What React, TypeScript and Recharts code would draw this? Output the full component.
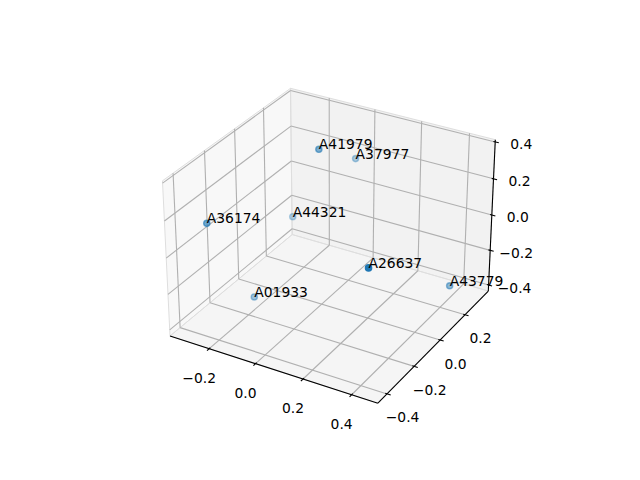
import React from 'react';
import { ScatterChart, Scatter, XAxis, YAxis } from 'recharts';

// ---------------- data ----------------
const pointLabels = ['A41979', 'A37977', 'A36174', 'A44321', 'A26637', 'A43779', 'A01933'];
const xValues = [-0.058, -0.051, -0.317, -0.230, 0.432, 0.450, -0.213];
const yValues = [0.080, 0.340, -0.283, 0.170, -0.411, 0.175, -0.138];
const zValues = [0.358, 0.155, 0.090, -0.132, 0.218, -0.274, -0.381];

const xTicks = [-0.2, 0.0, 0.2, 0.4];
const yTicks = [-0.4, -0.2, 0.0, 0.2];
const zTicks = [-0.4, -0.2, 0.0, 0.2, 0.4];
const fmt = (v: number) => (v < -1e-9 ? '\u2212' : '') + Math.abs(v).toFixed(1);

// ---------------- view (matplotlib-like 3D camera) ----------------
const ELEV = 30;
const AZIM = -60;
const DIST = 10;
const BOX_ASPECT = [4, 4, 3];
const MARGIN = 0.05;
const PANE_PAD = 1 / 48;

const W = 640;
const H = 480;
const CX = 332.1;
const CY = 238.2;
const SX = 2000.3;
const SY = 1980.6;

const FONT = 'DejaVu Sans, sans-serif';
const FS = 13.89;
const C0 = '#1f77b4';

const bnorm = Math.hypot(...BOX_ASPECT);
const aspect = BOX_ASPECT.map((v) => (v * 1.8294640721620434) / bnorm);

function lim(vals: number[]): [number, number] {
  const mn = Math.min(...vals);
  const mx = Math.max(...vals);
  const r = mx - mn;
  return [mn - MARGIN * r, mx + MARGIN * r];
}
const LIMS = [lim(xValues), lim(yValues), lim(zValues)];
const qOf = (axis: number, v: number) =>
  ((v - LIMS[axis][0]) / (LIMS[axis][1] - LIMS[axis][0]) - 0.5) * aspect[axis];
const L = (axis: number) => (-0.5 - PANE_PAD) * aspect[axis];
const Hh = (axis: number) => (0.5 + PANE_PAD) * aspect[axis];

const er = (ELEV * Math.PI) / 180;
const ar = (AZIM * Math.PI) / 180;
const Wv = [Math.cos(er) * Math.cos(ar), Math.cos(er) * Math.sin(ar), Math.sin(er)];
const un = Math.hypot(-Wv[1], Wv[0]);
const Uv = [-Wv[1] / un, Wv[0] / un, 0];
const Vv = [
  Wv[1] * Uv[2] - Wv[2] * Uv[1],
  Wv[2] * Uv[0] - Wv[0] * Uv[2],
  Wv[0] * Uv[1] - Wv[1] * Uv[0],
];
const dot = (a: number[], b: number[]) => a[0] * b[0] + a[1] * b[1] + a[2] * b[2];

function proj(q: number[]) {
  const d = dot(Wv, q);
  const den = DIST - d;
  return { tx: dot(Uv, q) / den, ty: dot(Vv, q) / den, depth: d };
}

const X_DOMAIN: [number, number] = [(0 - CX) / SX, (W - CX) / SX];
const Y_DOMAIN: [number, number] = [(CY - H) / SY, CY / SY];

// ---------------- geometry tables ----------------
const xL = L(0), xH = Hh(0), yL = L(1), yH = Hh(1), zL = L(2), zH = Hh(2);

const paneX = [[xL, yL, zL], [xL, yH, zL], [xL, yH, zH], [xL, yL, zH]].map(proj);
const paneY = [[xL, yH, zL], [xH, yH, zL], [xH, yH, zH], [xL, yH, zH]].map(proj);
const paneZ = [[xL, yL, zL], [xH, yL, zL], [xH, yH, zL], [xL, yH, zL]].map(proj);

const gridPts: { tx: number; ty: number }[] = [];
xTicks.forEach((t) => {
  const q = qOf(0, t);
  gridPts.push(proj([q, yL, zL]), proj([q, yH, zL]));
  gridPts.push(proj([q, yH, zL]), proj([q, yH, zH]));
});
yTicks.forEach((t) => {
  const q = qOf(1, t);
  gridPts.push(proj([xL, q, zL]), proj([xH, q, zL]));
  gridPts.push(proj([xL, q, zL]), proj([xL, q, zH]));
});
zTicks.forEach((t) => {
  const q = qOf(2, t);
  gridPts.push(proj([xL, yL, q]), proj([xL, yH, q]));
  gridPts.push(proj([xL, yH, q]), proj([xH, yH, q]));
});

const axisPts = [
  proj([xL, yL, zL]), proj([xH, yL, zL]),
  proj([xH, yL, zL]), proj([xH, yH, zL]),
  proj([xH, yH, zL]), proj([xH, yH, zH]),
];

const TOUT = 0.02;
const TIN = 0.01;
const tickPts: { tx: number; ty: number }[] = [];
xTicks.forEach((t) => {
  const q = qOf(0, t);
  tickPts.push(proj([q, yL - TOUT, zL]), proj([q, yL + TIN, zL]));
});
yTicks.forEach((t) => {
  const q = qOf(1, t);
  tickPts.push(proj([xH + TOUT, q, zL]), proj([xH - TIN, q, zL]));
});
zTicks.forEach((t) => {
  const q = qOf(2, t);
  tickPts.push(proj([xH + TOUT, yH, q]), proj([xH - TIN, yH, q]));
});

const tickLabels = [
  ...xTicks.map((t) => ({ ...proj([qOf(0, t), yL, zL]), text: fmt(t), dx: -10, dy: 29 })),
  ...yTicks.map((t) => ({ ...proj([xH, qOf(1, t), zL]), text: fmt(t), dx: 15.5, dy: 23.5 })),
  ...zTicks.map((t) => ({ ...proj([xH, yH, qOf(2, t)]), text: fmt(t), dx: 26, dy: 2.5 })),
];

const rawPoints = pointLabels.map((label, i) => ({
  label,
  ...proj([qOf(0, xValues[i]), qOf(1, yValues[i]), qOf(2, zValues[i])]),
}));
const dMin = Math.min(...rawPoints.map((p) => p.depth));
const dMax = Math.max(...rawPoints.map((p) => p.depth));
const points = rawPoints
  .map((p) => ({ ...p, alpha: 1 - (0.7 * (dMax - p.depth)) / (dMax - dMin) }))
  .sort((a, b) => a.depth - b.depth);

// ---------------- renderers ----------------
const Empty = () => <g />;

const polygonLine = (fill: string, opacity: number, stroke: string) => (lp: any) => {
  const pts = (lp.points || []) as { x: number; y: number }[];
  return (
    <polygon
      points={pts.map((p) => `${p.x},${p.y}`).join(' ')}
      fill={fill}
      fillOpacity={opacity}
      stroke={stroke}
      strokeWidth={1}
    />
  );
};

const segmentLine = (stroke: string, width: number) => (lp: any) => {
  const pts = (lp.points || []) as { x: number; y: number }[];
  const out: React.ReactElement[] = [];
  for (let i = 0; i + 1 < pts.length; i += 2) {
    out.push(
      <line
        key={i}
        x1={pts[i].x}
        y1={pts[i].y}
        x2={pts[i + 1].x}
        y2={pts[i + 1].y}
        stroke={stroke}
        strokeWidth={width}
        strokeLinecap="butt"
      />
    );
  }
  return <g>{out}</g>;
};

const TickLabel = (p: any) => (
  <text
    x={p.cx + p.payload.dx}
    y={p.cy + p.payload.dy}
    textAnchor="middle"
    dominantBaseline="central"
    fontFamily={FONT}
    fontSize={FS}
    fill="#000"
  >
    {p.payload.text}
  </text>
);

const Marker = (p: any) => (
  <circle
    cx={p.cx}
    cy={p.cy}
    r={3.1}
    fill={C0}
    fillOpacity={p.payload.alpha}
    stroke={C0}
    strokeOpacity={p.payload.alpha}
    strokeWidth={1.39}
  />
);

const PointText = (p: any) => (
  <text x={p.cx} y={p.cy} textAnchor="start" fontFamily={FONT} fontSize={FS} fill="#000">
    {p.payload.label}
  </text>
);

export default function App() {
  return (
    <div style={{ position: 'absolute', left: 0, top: 0, width: W, height: H, background: '#fff' }}>
      <ScatterChart width={W} height={H} margin={{ top: 0, right: 0, bottom: 0, left: 0 }}>
        <XAxis type="number" dataKey="tx" domain={X_DOMAIN} allowDataOverflow hide />
        <YAxis type="number" dataKey="ty" domain={Y_DOMAIN} allowDataOverflow hide />
        <Scatter key="paneX" data={paneX} line={polygonLine('rgb(242,242,242)', 0.5, 'rgb(222,222,222)')} shape={Empty} isAnimationActive={false} />
        <Scatter key="paneY" data={paneY} line={polygonLine('rgb(230,230,230)', 0.5, 'rgb(222,222,222)')} shape={Empty} isAnimationActive={false} />
        <Scatter key="paneZ" data={paneZ} line={polygonLine('rgb(236,236,236)', 0.5, 'rgb(222,222,222)')} shape={Empty} isAnimationActive={false} />
        <Scatter key="grid" data={gridPts} line={segmentLine('#b0b0b0', 1.1)} shape={Empty} isAnimationActive={false} />
        <Scatter key="axes" data={axisPts} line={segmentLine('#000', 1.1)} shape={Empty} isAnimationActive={false} />
        <Scatter key="ticks" data={tickPts} line={segmentLine('#000', 1.1)} shape={Empty} isAnimationActive={false} />
        <Scatter key="ticklabels" data={tickLabels} shape={TickLabel} isAnimationActive={false} />
        <Scatter key="points" data={points} shape={Marker} isAnimationActive={false} />
        <Scatter key="pointtext" data={points} shape={PointText} isAnimationActive={false} />
      </ScatterChart>
    </div>
  );
}
